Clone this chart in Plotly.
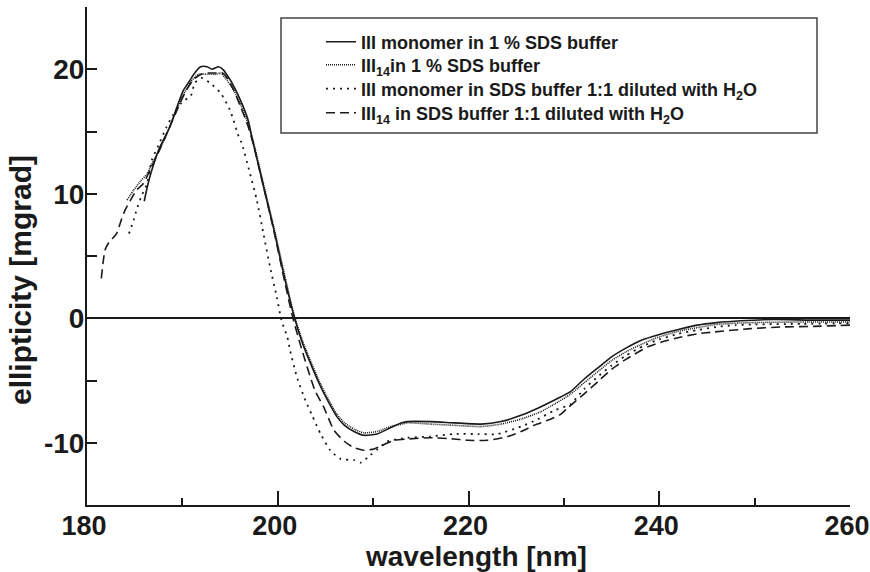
import plotly.graph_objects as go

# Series A: III monomer in 1 % SDS buffer (solid)
wl_a = [186.0, 186.4, 186.8, 187.5, 188.0, 188.7, 189.4, 190.1, 190.7, 191.2, 191.9, 192.6, 193.1, 193.8, 194.3, 194.8,
        195.2, 196.1, 196.9, 197.3, 198.5, 199.6, 200.6, 201.7, 202.5, 203.1, 204.5, 205.3, 206.2, 207.0, 208.0, 209.0,
        210.4, 211.8, 213.0, 213.6, 216.0, 218.5, 221.3, 223.4, 225.5, 227.6, 229.7, 230.7, 232.1, 233.7, 235.0, 236.5,
        238.0, 240.0, 242.0, 244.0, 246.0, 248.6, 252.0, 256.0, 260.0]
ell_a = [9.4, 10.8, 11.9, 13.5, 14.3, 15.4, 16.9, 18.3, 19.0, 19.6, 20.2, 20.2, 20.0, 20.2, 19.95, 19.4,
         18.9, 17.5, 15.9, 14.5, 10.6, 7.1, 3.6, 0.2, -1.8, -3.0, -5.5, -6.7, -7.9, -8.6, -9.1, -9.4,
         -9.3, -8.8, -8.4, -8.3, -8.3, -8.4, -8.5, -8.3, -7.8, -7.1, -6.3, -5.9, -4.9, -3.9, -3.1, -2.4,
         -1.8, -1.3, -0.9, -0.55, -0.35, -0.2, -0.1, -0.15, -0.15]

# Series B: III14 in 1 % SDS buffer (fine dotted)
wl_b = [184.2, 184.9, 185.6, 186.3, 186.8, 187.5, 188.2, 189.0, 190.0, 190.9, 191.7, 192.6, 193.6, 194.0, 194.5, 195.4,
        196.1, 196.9, 197.5, 198.5, 199.6, 200.6, 201.7, 202.5, 203.1, 204.5, 205.3, 206.2, 207.0, 208.0, 209.0, 210.4,
        211.8, 213.0, 213.6, 216.0, 218.5, 221.3, 223.4, 225.5, 227.6, 229.0, 230.7, 232.1, 233.7, 235.0, 236.5, 238.4,
        240.0, 242.0, 244.0, 246.0, 248.0, 250.0, 255.0, 260.0]
ell_b = [9.5, 10.3, 11.0, 11.6, 12.4, 13.4, 14.5, 16.0, 17.8, 19.0, 19.6, 19.6, 19.6, 19.7, 19.3, 18.3,
         17.2, 15.6, 14.0, 10.8, 7.3, 3.9, 0.3, -1.6, -2.8, -5.3, -6.5, -7.7, -8.4, -8.9, -9.2, -9.1,
         -8.7, -8.5, -8.4, -8.5, -8.6, -8.7, -8.5, -8.1, -7.5, -6.9, -6.1, -5.2, -4.2, -3.4, -2.7, -2.0,
         -1.5, -1.05, -0.75, -0.5, -0.4, -0.35, -0.3, -0.3]

# Series C: III monomer in SDS buffer 1:1 diluted with H2O (sparse dotted)
wl_c = [184.4, 184.9, 185.2, 185.7, 186.3, 186.8, 187.5, 188.3, 189.0, 189.9, 190.9, 191.3, 192.0, 192.9, 194.0, 195.0,
        195.9, 196.2, 197.1, 197.8, 198.5, 199.2, 199.9, 200.4, 201.0, 201.3, 202.0, 202.9, 203.6, 204.5, 205.5, 206.6,
        208.0, 208.7, 209.7, 210.5, 211.5, 213.6, 216.0, 218.5, 221.0, 223.0, 225.5, 227.3, 229.0, 230.7, 232.1, 233.7,
        235.0, 236.5, 238.4, 240.0, 242.0, 244.0, 246.0, 248.0, 250.0, 255.0, 260.0]
ell_c = [6.8, 7.9, 8.7, 9.8, 10.8, 12.7, 13.9, 15.3, 16.3, 17.3, 17.9, 18.9, 19.3, 18.9, 18.1, 16.7,
         14.6, 14.1, 11.6, 9.5, 6.8, 4.1, 1.7, -0.2, -1.5, -2.6, -4.7, -6.6, -7.8, -9.3, -10.6, -11.3,
         -11.4, -11.6, -11.0, -10.5, -9.9, -9.6, -9.5, -9.3, -9.3, -9.3, -8.7, -8.1, -7.4, -6.9, -5.7, -4.6,
         -3.8, -3.0, -2.2, -1.7, -1.25, -0.95, -0.7, -0.55, -0.5, -0.45, -0.4]

# Series D: III14 in SDS buffer 1:1 diluted with H2O (dashed)
wl_d = [181.5, 181.9, 182.3, 183.1, 183.6, 184.0, 184.5, 185.2, 185.9, 186.6, 187.3, 188.0, 188.8, 189.6, 190.4, 191.2,
        192.0, 192.8, 193.6, 194.2, 194.8, 195.4, 196.1, 196.9, 197.5, 198.5, 199.6, 200.6, 201.5, 202.4, 203.9, 204.8,
        205.9, 207.0, 208.0, 209.0, 210.1, 211.0, 212.2, 213.6, 216.0, 218.5, 219.9, 222.0, 224.1, 225.5, 226.9, 228.3,
        229.7, 230.4, 232.1, 233.7, 235.0, 236.5, 238.8, 240.5, 242.3, 244.0, 245.8, 249.3, 252.8, 256.2, 260.0]
ell_d = [3.2, 5.5, 6.1, 6.8, 7.9, 8.7, 9.4, 10.3, 10.8, 11.9, 13.0, 14.2, 15.6, 17.0, 18.3, 19.2,
         19.6, 19.7, 19.7, 19.7, 19.2, 18.3, 17.0, 15.4, 13.8, 10.6, 7.0, 3.4, 0.3, -2.2, -5.8, -7.1,
         -9.0, -9.9, -10.4, -10.6, -10.5, -10.2, -9.8, -9.7, -9.6, -9.7, -9.8, -9.8, -9.5, -9.1, -8.6, -8.2,
         -7.7, -7.2, -6.1, -5.0, -4.1, -3.3, -2.3, -1.85, -1.5, -1.25, -1.1, -0.85, -0.7, -0.65, -0.55]

names = [
    "III monomer in 1 % SDS buffer",
    "III<sub>14</sub>in 1 % SDS buffer",
    "III monomer in SDS buffer 1:1 diluted with H<sub>2</sub>O",
    "III<sub>14</sub> in SDS buffer 1:1 diluted with H<sub>2</sub>O",
]

x_ticks = [180, 200, 220, 240, 260]
x_tick_text = ["180", "200", "220", "240", "260"]
y_ticks = [-10, 0, 10, 20]
y_tick_text = ["-10", "0", "10", "20"]

FONT = "Liberation Sans, Arial, Helvetica, sans-serif"
INK = "#1a1a1a"

# plot area in pixels: x 87..850, y 7..505
L, R, T, B = 87, 20, 7, 67
W, H = 870, 572
PW, PH = W - L - R, H - T - B

def px_x(p):
    return (p - L) / PW

def px_y(p):
    return (H - B - p) / PH

fig = go.Figure()
styles = [
    dict(dash="solid", width=1.6),
    dict(dash="1px,1px", width=1.6),
    dict(dash="2px,5px", width=1.8),
    dict(dash="9px,5px", width=1.6),
]
legend_ids = ["legend", "legend2", "legend3", "legend4"]
row_y = [42, 65, 89, 113]
for (wx, wy), nm, st, lid in zip([(wl_a, ell_a), (wl_b, ell_b), (wl_c, ell_c), (wl_d, ell_d)], names, styles, legend_ids):
    fig.add_trace(go.Scatter(x=wx, y=wy, mode="lines", name=nm, legend=lid,
                             line=dict(color=INK, dash=st["dash"], width=st["width"], shape="spline", smoothing=0.6)))

legend_common = dict(xanchor="left", yanchor="middle", bgcolor="rgba(0,0,0,0)", borderwidth=0,
                     font=dict(family=FONT, size=18, color=INK, weight="bold"))
layout_legends = {}
for lid, ry in zip(legend_ids, row_y):
    layout_legends[lid] = dict(x=px_x(321), y=px_y(ry), **legend_common)

fig.update_layout(
    width=W, height=H,
    margin=dict(l=L, r=R, t=T, b=B, autoexpand=False),
    paper_bgcolor="white", plot_bgcolor="white",
    font=dict(family=FONT, color=INK),
    showlegend=True,
    shapes=[dict(type="rect", xref="paper", yref="paper", x0=px_x(281), x1=px_x(817), y0=px_y(133), y1=px_y(18),
                 line=dict(color="#444", width=1.5), fillcolor="rgba(0,0,0,0)")],
    annotations=[
        dict(text="wavelength [nm]", xref="paper", yref="paper", x=px_x(476), y=px_y(556),
             xanchor="center", yanchor="middle", showarrow=False,
             font=dict(family=FONT, size=28, color=INK, weight="bold")),
        dict(text="ellipticity [mgrad]", xref="paper", yref="paper", x=px_x(21), y=px_y(280),
             xanchor="center", yanchor="middle", showarrow=False, textangle=-90,
             font=dict(family=FONT, size=30, color=INK, weight="bold")),
    ],
    **layout_legends,
)
fig.update_xaxes(range=[180, 260], tickvals=x_ticks, ticktext=x_tick_text, ticks="inside", ticklen=14, tickwidth=2,
                 tickcolor=INK, showline=True, linewidth=2, linecolor=INK, showgrid=False, zeroline=False,
                 mirror=False, automargin=False, ticklabeloverflow="allow", ticklabelstandoff=-4,
                 ticklabelshift=-3,
                 tickfont=dict(family=FONT, size=27, color=INK, weight="bold"),
                 minor=dict(dtick=10, tick0=180, ticks="inside", ticklen=7, tickwidth=2, tickcolor=INK))
fig.update_yaxes(range=[-15, 25], tickvals=y_ticks, ticktext=y_tick_text, ticks="inside", ticklen=10, tickwidth=2,
                 tickcolor=INK, showline=True, linewidth=2, linecolor=INK, showgrid=False,
                 zeroline=True, zerolinecolor=INK, zerolinewidth=2,
                 automargin=False, ticklabeloverflow="allow", ticklabelstandoff=-5,
                 tickfont=dict(family=FONT, size=28, color=INK, weight="bold"),
                 minor=dict(dtick=5, tick0=-15, ticks="inside", ticklen=10, tickwidth=2, tickcolor=INK))

fig.write_html("out.html", config={"displayModeBar": False},
               post_script="document.body.style.margin='0px';")
